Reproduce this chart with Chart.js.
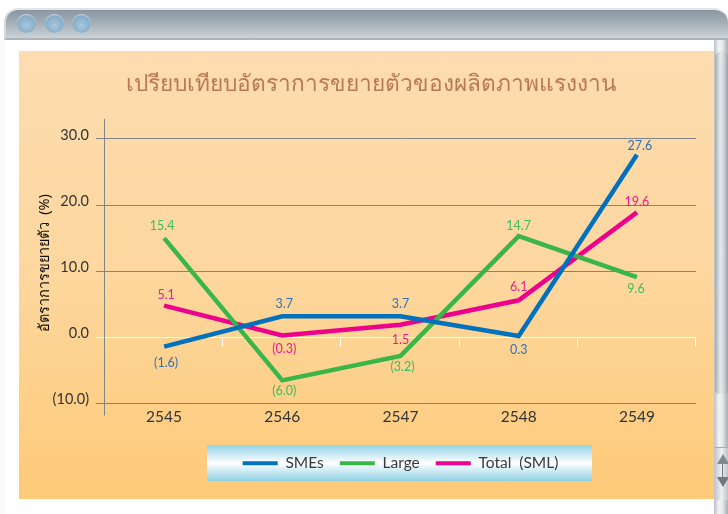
<!DOCTYPE html>
<html lang="th">
<head>
<meta charset="utf-8">
<script src="https://cdn.jsdelivr.net/npm/chart.js@4"></script>
<style>
html,body{margin:0;padding:0;background:#fff;overflow:hidden}
#page{position:relative;width:728px;height:514px;overflow:hidden;background:#fff}
#page div{position:absolute}
#bar{left:4px;top:8px;width:724px;height:32px;box-sizing:border-box;border-top:2px solid #e3e5e6;border-left:2px solid #d5dadd;border-bottom:2px solid #a9b3b9;border-radius:14px 14px 0 0;background:linear-gradient(#8997a2,#a3aeb6 45%,#cdd3d7)}
.dot{top:14px;width:19px;height:19px;border-radius:50%;background:radial-gradient(circle at 50% 60%,#a9c7dd,#88adc8 60%,#7c9cb5);box-shadow:inset 0 1px 1px #c3d6e4}
#edge{left:0;top:40px;width:5px;height:474px;background:#f8f9fa}
#panel{left:19px;top:51px;width:695px;height:448px;background:linear-gradient(#fddcb0,#fdd79e 50%,#fdca78)}
#track{left:714px;top:40px;width:14px;height:474px;background:linear-gradient(90deg,#b9c0c5,#f3f4f5 35%,#e6e9ea 60%,#a7afb5)}
#thumb{left:715px;top:52px;width:13px;height:342px;border-radius:5px 5px 4px 4px;background:linear-gradient(90deg,#a3abb1,#e7eaec 40%,#d4d8db 65%,#98a1a8)}
#btn{left:715px;top:447px;width:13px;height:52px;background:linear-gradient(90deg,#c2c8cc,#eef0f1 50%,#bcc3c8);border-top:1px solid #a7afb5}
#up{left:717px;top:454px;width:0;height:0;border-left:6px solid transparent;border-right:6px solid transparent;border-bottom:10px solid #808890}
#down{left:717px;top:477px;width:0;height:0;border-left:6px solid transparent;border-right:6px solid transparent;border-top:10px solid #707880}
#stem{left:722px;top:464px;width:1px;height:13px;background:#707880}
#legendbg{left:207px;top:445px;width:385px;height:36px;background:linear-gradient(#8fd2e5,#fff 50%,#8fd2e5)}
canvas{position:absolute;left:0;top:0}
</style>
</head>
<body>
<div id="page">
  <div id="edge"></div>
  <div id="bar"></div>
  <div class="dot" style="left:17px"></div>
  <div class="dot" style="left:45px"></div>
  <div class="dot" style="left:72px"></div>
  <div id="panel"></div>
  <div id="track"></div>
  <div id="thumb"></div>
  <div id="btn"></div>
  <div id="up"></div>
  <div id="stem"></div>
  <div id="down"></div>
  <div id="legendbg"></div>
  <canvas id="c" width="728" height="514"></canvas>
</div>
<script>
const categories = ['2545', '2546', '2547', '2548', '2549'];
const yTicks = [-10, 0, 10, 20, 30];
const smes = [-1.4, 3.2, 3.2, 0.2, 27.6];
const large = [15.0, -6.5, -2.8, 15.3, 9.1];
const total = [4.8, 0.3, 1.9, 5.6, 18.9];
const smesLabels = ['(1.6)', '3.7', '3.7', '0.3', '27.6'];
const largeLabels = ['15.4', '(6.0)', '(3.2)', '14.7', '9.6'];
const totalLabels = ['5.1', '(0.3)', '1.5', '6.1', '19.6'];
const chartTitle = 'เปรียบเทียบอัตราการขยายตัวของผลิตภาพแรงงาน';
const yTitle = 'อัตราการขยายตัว  (%)';

const FONT = 'Lato, "Noto Sans", sans-serif';
const THAI = '"Noto Sans", "DejaVu Sans", sans-serif';
const labelOffsets = [
  [[2,16],[2,-12],[0,-12],[0,14],[3,-9]],
  [[-2,-12],[2,11],[2,11],[0,-10],[-1,12]],
  [[2,-11],[2,14],[0,15],[0,-13],[0,-10]]
];

const valueLabels = {
  id: 'valueLabels',
  afterDatasetsDraw(chart) {
    const {ctx} = chart;
    ctx.save();
    ctx.font = '12.5px ' + FONT;
    ctx.textAlign = 'center';
    ctx.textBaseline = 'middle';
    chart.data.datasets.forEach((ds, d) => {
      ctx.fillStyle = ds.labelColor;
      chart.getDatasetMeta(d).data.forEach((pt, i) => {
        const o = labelOffsets[d][i];
        ctx.fillText(ds.pointText[i], pt.x + o[0], pt.y + o[1]);
      });
    });
    ctx.restore();
  }
};
const axisMarks = {
  id: 'axisMarks',
  beforeDatasetsDraw(chart) {
    const {ctx, chartArea, scales:{x, y}} = chart;
    const y0 = y.getPixelForValue(0);
    const half = (x.getPixelForValue(1) - x.getPixelForValue(0)) / 2;
    ctx.save();
    ctx.lineWidth = 1;
    ctx.strokeStyle = '#7f8487';
    ctx.beginPath();
    ctx.moveTo(chartArea.left - 0.5, chartArea.top);
    ctx.lineTo(chartArea.left - 0.5, chartArea.bottom + 8);
    ctx.stroke();
    ctx.strokeStyle = '#ffffff';
    categories.forEach((c, i) => {
      const px = Math.round(x.getPixelForValue(i) + half) - 0.5;
      ctx.beginPath();
      ctx.moveTo(px, y0);
      ctx.lineTo(px, y0 + 9);
      ctx.stroke();
    });
    ctx.restore();
  }
};
const shiftTitle = {
  id: 'shiftTitle',
  afterLayout(chart) {
    chart.titleBlock.left += 23;
    chart.titleBlock.right += 23;
  }
};

const line = (label, data, color, labelColor, pointText) => ({
  label, data, pointText, labelColor,
  borderColor: color, backgroundColor: color, borderWidth: 4.5,
  pointRadius: 0, tension: 0, borderCapStyle: 'butt', borderJoinStyle: 'miter'
});

new Chart(document.getElementById('c'), {
  type: 'line',
  data: {
    labels: categories,
    datasets: [
      line('SMEs', smes, '#0071bc', '#2f70b4', smesLabels),
      line('Large', large, '#39b54a', '#3fbb5c', largeLabels),
      line('Total  (SML)', total, '#ec008c', '#ec1c8e', totalLabels)
    ]
  },
  plugins: [axisMarks, valueLabels, shiftTitle],
  options: {
    responsive: false,
    animation: false,
    layout: {padding: {left: 0, right: 32, top: 0, bottom: 33}},
    plugins: {
      tooltip: {enabled: false},
      title: {
        display: true, text: chartTitle, color: '#b87a52',
        font: {family: THAI, size: 22.7, weight: 'normal'},
        padding: {top: 71, bottom: 20.8}
      },
      legend: {
        position: 'bottom', fullSize: false,
        labels: {
          boxWidth: 35, boxHeight: 4, padding: 16, color: '#3a3a3a',
          font: {family: FONT, size: 15.5},
          generateLabels(chart) {
            return chart.data.datasets.map((ds, i) => ({
              text: ds.label, fillStyle: ds.borderColor, strokeStyle: ds.borderColor,
              lineWidth: 0, datasetIndex: i, fontColor: '#3a3a3a'
            }));
          }
        }
      }
    },
    scales: {
      x: {
        offset: true,
        afterFit(s) { s.height = 32; },
        grid: {display: false, drawTicks: false},
        border: {display: false},
        ticks: {color: '#333333', font: {family: FONT, size: 15.5}, padding: 0, maxRotation: 0}
      },
      y: {
        min: -10.6, max: 33,
        afterFit(s) { s.width = 105; },
        afterBuildTicks(s) { s.ticks = yTicks.map(value => ({value})); },
        border: {display: false},
        grid: {
          color: c => c.tick.value === 0 ? '#ffffff' : '#7f8487',
          lineWidth: 1, tickLength: 9, drawTicks: true
        },
        ticks: {
          color: '#333333', font: {family: FONT, size: 14.5}, padding: 7, labelOffset: -4,
          callback: v => v < 0 ? '(' + Math.abs(v).toFixed(1) + ')' : v.toFixed(1)
        },
        title: {
          display: true, text: yTitle, color: '#111111',
          font: {family: THAI, size: 14.5, weight: 'normal'},
          padding: {top: 36, bottom: 0}
        }
      }
    }
  }
});
</script>
</body>
</html>
